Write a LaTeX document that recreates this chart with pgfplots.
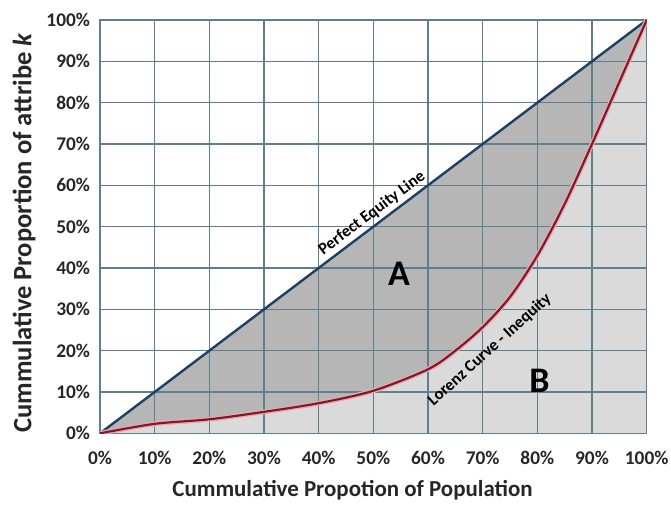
\documentclass[border=0pt]{standalone}
\usepackage{pgfplots}
\pgfplotsset{compat=1.18}
\usepackage{fontspec}
\setmainfont{Carlito}

\definecolor{gridc}{HTML}{5F7F8E}
\definecolor{equity}{HTML}{1F3F66}
\definecolor{lorenz}{HTML}{7A1A2A}
\definecolor{halo}{HTML}{E8A8B0}
\definecolor{areaA}{HTML}{B6B6B6}
\definecolor{areaB}{HTML}{DADADA}

\begin{document}
\begin{tikzpicture}
  \begin{axis}[
    set layers=standard,
    scale only axis,
    width=410pt, height=310pt,
    xmin=0, xmax=100, ymin=0, ymax=100,
    xtick={0,10,...,100}, ytick={0,10,...,100},
    xticklabels={0\%,10\%,20\%,30\%,40\%,50\%,60\%,70\%,80\%,90\%,100\%},
    yticklabels={0\%,10\%,20\%,30\%,40\%,50\%,60\%,70\%,80\%,90\%,100\%},
    ticklabel style={font=\fontsize{14.5}{17}\selectfont\bfseries, text=black!85},
    xticklabel style={yshift=-10pt},
    yticklabel style={xshift=-4pt},
    major tick length=0pt,
    grid=major,
    grid style={draw=gridc, line width=0.9pt},
    axis line style={draw=gridc, line width=1.1pt},
    xlabel={Cummulative Propotion of Population},
    ylabel={Cummulative Proportion of attribe \textit{k}},
    xlabel style={at={(axis description cs:0.462,-0.138)}, anchor=center,
      font=\fontsize{17.2}{20}\selectfont\bfseries, text=black!85},
    ylabel style={at={(axis description cs:-0.139,0.485)}, anchor=center,
      font=\fontsize{19.9}{22}\selectfont\bfseries, text=black!85},
  ]
    % region A: under the equity line
    \addplot[on layer=axis background, draw=none, fill=areaA]
      coordinates {(0,0) (100,100) (100,0)} \closedcycle;
    % region B: under the Lorenz curve
    \addplot[on layer=axis background, draw=none, fill=areaB, smooth, tension=0.5]
      coordinates {(0,0) (10,2.3) (20,3.4) (30,5.2) (40,7.3) (50,10.3) (60,15.5)
                   (65,20) (70,25.7) (75,33) (80,43) (85,55.5) (90,70) (95,85) (100,100)}
      \closedcycle;

    % perfect equity line
    \addplot[equity, line width=1.8pt] coordinates {(0,0) (100,100)};

    % Lorenz curve with its light halo
    \addplot[halo, line width=3.6pt, smooth, tension=0.5]
      coordinates {(0,0) (10,2.3) (20,3.4) (30,5.2) (40,7.3) (50,10.3) (60,15.5)
                   (65,20) (70,25.7) (75,33) (80,43) (85,55.5) (90,70) (95,85) (100,100)};
    \addplot[lorenz, line width=1.6pt, smooth, tension=0.5]
      coordinates {(0,0) (10,2.3) (20,3.4) (30,5.2) (40,7.3) (50,10.3) (60,15.5)
                   (65,20) (70,25.7) (75,33) (80,43) (85,55.5) (90,70) (95,85) (100,100)};

    \node[rotate=37, anchor=south, inner sep=3pt,
      font=\fontsize{12.5}{14}\selectfont\bfseries]
      at (axis cs:51,51) {Perfect Equity Line};
    \node[rotate=42, font=\fontsize{12.5}{14}\selectfont\bfseries]
      at (axis cs:71.3,20.2) {Lorenz Curve - Inequity};
    \node[font=\fontsize{27}{30}\selectfont\bfseries] at (axis cs:54.7,38.7) {A};
    \node[font=\fontsize{27}{30}\selectfont\bfseries] at (axis cs:80.4,12.6) {B};
  \end{axis}
  % page = 671 x 504 px at 0.75pt per px
  \pgfresetboundingbox
  \useasboundingbox (-75pt,-53pt) rectangle (428.25pt,325pt);
\end{tikzpicture}
\end{document}
